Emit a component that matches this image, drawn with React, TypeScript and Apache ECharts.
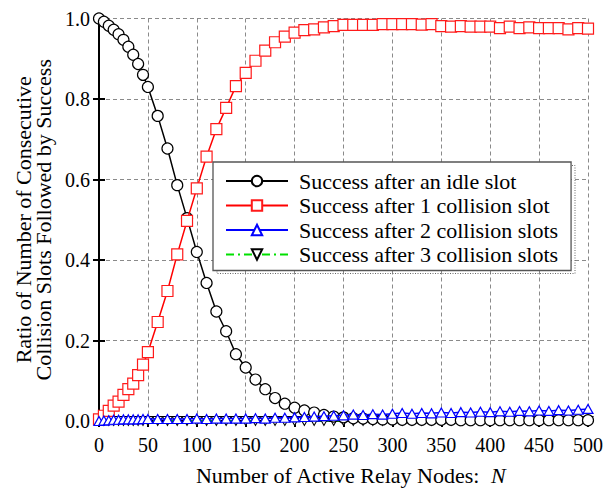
import React, { useEffect, useRef } from "react";
import * as echarts from "echarts";

const nodeCounts = [
  0, 5, 10, 15, 20, 25, 30, 35, 40, 45, 50, 60, 70, 80, 90, 100, 110, 120, 130, 140,
  150, 160, 170, 180, 190, 200, 210, 220, 230, 240, 250, 260, 270, 280, 290, 300,
  310, 320, 330, 340, 350, 360, 370, 380, 390, 400, 410, 420, 430, 440, 450, 460,
  470, 480, 490, 500,
];

const afterIdle = [
  1.0, 0.992, 0.982, 0.972, 0.961, 0.947, 0.93, 0.91, 0.887, 0.86, 0.83, 0.758, 0.677,
  0.586, 0.504, 0.42, 0.343, 0.272, 0.223, 0.166, 0.133, 0.103, 0.079, 0.057, 0.043,
  0.033, 0.026, 0.021, 0.015, 0.011, 0.009, 0.007, 0.006, 0.005, 0.004, 0.004, 0.003,
  0.003, 0.003, 0.003, 0.003, 0.003, 0.002, 0.002, 0.002, 0.002, 0.002, 0.002, 0.002,
  0.002, 0.002, 0.002, 0.002, 0.002, 0.002, 0.002,
];

const afterOneCollision = [
  0.004, 0.013, 0.025, 0.038, 0.048, 0.065, 0.079, 0.093, 0.114, 0.14, 0.171, 0.246,
  0.323, 0.414, 0.497, 0.578, 0.657, 0.725, 0.778, 0.832, 0.865, 0.895, 0.92, 0.941,
  0.955, 0.965, 0.971, 0.973, 0.978, 0.981, 0.984, 0.984, 0.984, 0.984, 0.986, 0.986,
  0.986, 0.986, 0.985, 0.986, 0.981, 0.98, 0.981, 0.98, 0.98, 0.98, 0.976, 0.98, 0.976,
  0.978, 0.976, 0.976, 0.976, 0.973, 0.976, 0.975,
];

const afterTwoCollisions = [
  0.0, 0.001, 0.002, 0.003, 0.003, 0.004, 0.004, 0.004, 0.004, 0.005, 0.005, 0.005,
  0.005, 0.005, 0.005, 0.006, 0.005, 0.006, 0.006, 0.006, 0.006, 0.007, 0.006, 0.008,
  0.008, 0.009, 0.01, 0.011, 0.012, 0.013, 0.014, 0.016, 0.015, 0.017, 0.016, 0.018,
  0.02, 0.018, 0.02, 0.019, 0.021, 0.02, 0.022, 0.021, 0.023, 0.022, 0.024, 0.023,
  0.025, 0.024, 0.026, 0.025, 0.027, 0.026, 0.028, 0.03,
];

const afterThreeCollisions = [
  0.0, 0.0, 0.0, 0.0, 0.0, 0.0, 0.0, 0.0, 0.0, 0.0, 0.0, 0.0, 0.0, 0.0, 0.0, 0.0, 0.0,
  0.0, 0.0, 0.0, 0.0, 0.0, 0.0, 0.0, 0.0, 0.0, 0.0, 0.0, 0.0, 0.0, 0.0, 0.0, 0.0, 0.0,
  0.0, 0.0, 0.0, 0.0, 0.0, 0.0, 0.0, 0.0, 0.0, 0.0, 0.0, 0.0, 0.0, 0.0, 0.0, 0.0, 0.0,
  0.0, 0.0, 0.0, 0.0, 0.0,
];

const seriesNames = [
  "Success after an idle slot",
  "Success after 1 collision slot",
  "Success after 2 collision slots",
  "Success after 3 collision slots",
];

const FONT = "'Liberation Serif', 'Times New Roman', serif";

const pairs = (ys: number[]) => nodeCounts.map((n, i) => [n, ys[i]]);

export default function App() {
  const ref = useRef<HTMLDivElement>(null);

  useEffect(() => {
    if (!ref.current) return;
    const chart = echarts.init(ref.current, null, { renderer: "svg" });

    const axisLine = { show: true, lineStyle: { color: "#000", width: 2 } };
    const tickIn = { show: true, inside: true, length: 6, lineStyle: { color: "#000", width: 2 } };
    const gridLines = { show: true, lineStyle: { color: "#8a8a8a", type: [4, 3] as any, width: 1 } };

    chart.setOption({
      animation: false,
      backgroundColor: "#fff",
      textStyle: { fontFamily: FONT },
      grid: { left: 99, right: 18, top: 18.5, bottom: 67.5, containLabel: false },
      xAxis: [
        {
          type: "value",
          min: 0,
          max: 500,
          interval: 50,
          position: "bottom",
          axisLine,
          axisTick: tickIn,
          splitLine: gridLines,
          axisLabel: { color: "#000", fontSize: 20, fontFamily: FONT, margin: 14 },
          name: "Number of Active Relay Nodes:  {i|N}",
          nameLocation: "middle",
          nameGap: 43,
          nameTextStyle: {
            color: "#000",
            fontSize: 22,
            fontFamily: FONT,
            padding: [0, 0, 0, 14],
            rich: { i: { fontStyle: "italic", fontSize: 22, fontFamily: FONT, color: "#000" } },
          },
        },
        {
          type: "value",
          min: 0,
          max: 500,
          interval: 50,
          position: "top",
          axisLine,
          axisTick: tickIn,
          splitLine: { show: false },
          axisLabel: { show: false },
        },
      ],
      yAxis: [
        {
          type: "value",
          min: 0,
          max: 1,
          interval: 0.2,
          position: "left",
          axisLine,
          axisTick: tickIn,
          splitLine: gridLines,
          axisLabel: {
            color: "#000",
            fontSize: 20,
            fontFamily: FONT,
            margin: 9,
            formatter: (v: number) => v.toFixed(1),
          },
          name: "Ratio of Number of Consecutive\nCollision Slots Followed by Success",
          nameLocation: "middle",
          nameRotate: 90,
          nameGap: 44,
          nameTextStyle: { color: "#000", fontSize: 22, fontFamily: FONT, lineHeight: 20 },
        },
        {
          type: "value",
          min: 0,
          max: 1,
          interval: 0.2,
          position: "right",
          axisLine,
          axisTick: tickIn,
          splitLine: { show: false },
          axisLabel: { show: false },
        },
      ],
      legend: {
        orient: "vertical",
        left: 213,
        top: 162,
        z: 10,
        padding: [8, 13, 5, 12],
        itemWidth: 62,
        itemHeight: 13,
        itemGap: 2.5,
        backgroundColor: "#fff",
        borderColor: "#555",
        borderWidth: 1.3,
        borderRadius: 0,
        textStyle: { color: "#000", fontSize: 22, fontFamily: FONT, lineHeight: 22, padding: [0, 0, 0, 6] },
        data: seriesNames,
      },
      graphic: [
        {
          type: "rect",
          z: 5,
          shape: { x: 217, y: 165.5, width: 358, height: 108 },
          style: { fill: "none", stroke: "#666", lineWidth: 1, lineDash: [1, 1.5] },
        },
      ],
      series: [
        {
          name: seriesNames[0],
          type: "line",
          data: pairs(afterIdle),
          symbol: "circle",
          symbolSize: 11,
          showAllSymbol: true,
          lineStyle: { color: "#000", width: 1.5 },
          itemStyle: { color: "#fff", borderColor: "#000", borderWidth: 1.2 },
          z: 2,
        },
        {
          name: seriesNames[1],
          type: "line",
          data: pairs(afterOneCollision),
          symbol: "rect",
          symbolSize: 11,
          showAllSymbol: true,
          lineStyle: { color: "#ff0000", width: 1.5 },
          itemStyle: { color: "#fff", borderColor: "#ff1a1a", borderWidth: 1.2 },
          z: 3,
        },
        {
          name: seriesNames[2],
          type: "line",
          data: pairs(afterTwoCollisions),
          symbol: "triangle",
          symbolSize: [10, 9],
          showAllSymbol: true,
          lineStyle: { color: "#0000ff", width: 1.5 },
          itemStyle: { color: "#fff", borderColor: "#0000ff", borderWidth: 1.2 },
          z: 4,
        },
        {
          name: seriesNames[3],
          type: "line",
          data: pairs(afterThreeCollisions),
          symbol: "path://M0,0L10,0L5,9Z",
          symbolSize: [10, 9],
          showAllSymbol: true,
          lineStyle: { color: "#00e000", width: 1.5, type: [8, 4, 2, 4] as any },
          itemStyle: { color: "#fff", borderColor: "#000", borderWidth: 1 },
          z: 1,
        },
      ],
    });

    return () => chart.dispose();
  }, []);

  return <div ref={ref} style={{ width: 606, height: 491, position: "absolute", left: 0, top: 0 }} />;
}
